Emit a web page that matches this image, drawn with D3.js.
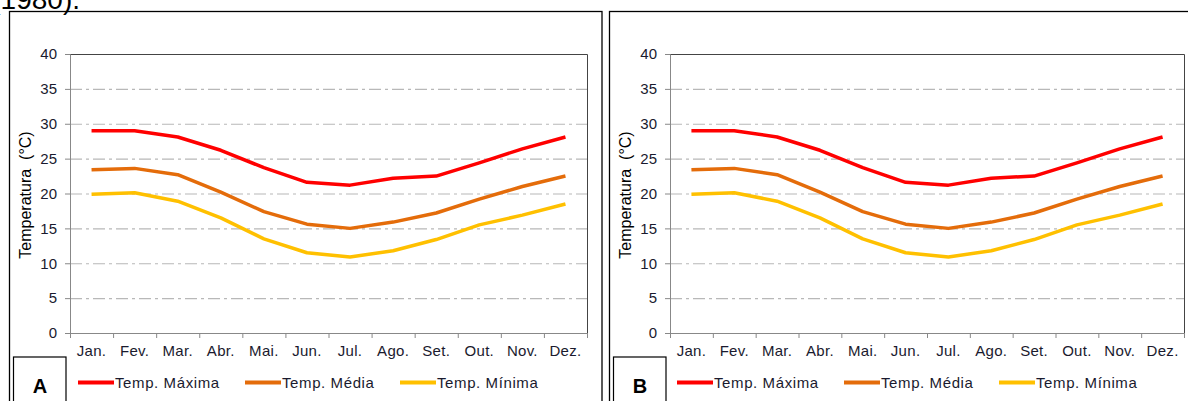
<!DOCTYPE html>
<html>
<head>
<meta charset="utf-8">
<script src="https://cdn.jsdelivr.net/npm/d3@7"></script>
<style>
  body { margin: 0; background: #fff; }
  svg { display: block; font-family: "Liberation Sans", Arial, sans-serif; }
  .tick text { fill: #1a1a2e; }
</style>
</head>
<body>
<div id="chart-container"></div>
<script>
// monthly temperatures (°C)
const months = ["Jan.", "Fev.", "Mar.", "Abr.", "Mai.", "Jun.", "Jul.", "Ago.", "Set.", "Out.", "Nov.", "Dez."];
const tempMax = [29.0, 29.0, 28.1, 26.2, 23.7, 21.6, 21.2, 22.2, 22.5, 24.4, 26.4, 28.1];
const tempMed = [23.4, 23.6, 22.7, 20.2, 17.4, 15.6, 15.0, 15.9, 17.2, 19.2, 21.0, 22.5];
const tempMin = [19.9, 20.1, 18.9, 16.5, 13.5, 11.5, 10.9, 11.8, 13.4, 15.5, 16.9, 18.5];
const yTicks = [0, 5, 10, 15, 20, 25, 30, 35, 40];
const seriesNames = ["Temp. Máxima", "Temp. Média", "Temp. Mínima"];
const seriesColors = ["#ff0000", "#e46c0a", "#ffc000"];

const svg = d3.select("#chart-container")
  .append("svg")
  .attr("width", 1188)
  .attr("height", 401);

// cut-off caption from the page above
svg.append("text")
  .attr("x", 80).attr("y", 9)
  .attr("text-anchor", "end")
  .style("font-size", "28px")
  .attr("fill", "#000")
  .text("(1980).");

const panels = [
  {label: "A", box: [9.5, 602], left: 70, right: 587, dx: 0},
  {label: "B", box: [609.5, 1200], left: 670, right: 1184, dx: 599}
];

const plotTop = 54, plotBottom = 333;

panels.forEach(p => drawPanel(p));

function drawPanel(p) {
  const g = svg.append("g");

  // outer frame
  g.append("rect")
    .attr("x", p.box[0]).attr("y", 11.5)
    .attr("width", p.box[1] - p.box[0]).attr("height", 420)
    .attr("fill", "none").attr("stroke", "#000").attr("stroke-width", 1.3);

  const x = d3.scaleBand().domain(months).range([p.left, p.right]);
  const xEdge = d3.scaleLinear().domain([0, 12]).range([p.left, p.right]);
  const y = d3.scaleLinear().domain([0, 40]).range([plotBottom, plotTop]);

  // grid (dash-dot)
  g.append("g").selectAll("line")
    .data(yTicks.filter(d => d > 0 && d < 40))
    .join("line")
    .attr("x1", p.left).attr("x2", p.right)
    .attr("y1", d => y(d) + 0.5).attr("y2", d => y(d) + 0.5)
    .attr("stroke", "#b8b8b8").attr("stroke-width", 1.2)
    .attr("stroke-dasharray", "12,4,3,4");

  // plot area top and right border
  g.append("path")
    .attr("d", `M${p.left},${y(40) + 0.5}H${p.right + 0.5}V${plotBottom}`)
    .attr("fill", "none").attr("stroke", "#444").attr("stroke-width", 1);

  // Y axis
  const yAxis = g.append("g")
    .attr("transform", `translate(${p.left},0)`)
    .call(d3.axisLeft(y).tickValues(yTicks).tickSize(5).tickPadding(8));
  yAxis.select(".domain").attr("stroke", "#888");
  yAxis.selectAll(".tick line").attr("stroke", "#888");
  yAxis.selectAll("text").style("font-size", "15px");

  // X axis: tick marks at band edges
  const xTicks = g.append("g")
    .attr("transform", `translate(0,${plotBottom})`)
    .call(d3.axisBottom(xEdge).ticks(12).tickSize(5).tickFormat(""));
  xTicks.select(".domain").attr("stroke", "#888");
  xTicks.selectAll(".tick line").attr("stroke", "#888");

  // X labels centred in bands
  const xLab = g.append("g")
    .attr("transform", `translate(0,${plotBottom})`)
    .call(d3.axisBottom(x).tickSize(0).tickPadding(12));
  xLab.select(".domain").remove();
  xLab.selectAll("text").style("font-size", "15px").style("letter-spacing", "0.3px");

  // Y title
  g.append("text")
    .attr("transform", `translate(${p.left - 39},195) rotate(-90)`)
    .attr("text-anchor", "middle")
    .style("font-size", "16px")
    .attr("fill", "#000")
    .attr("xml:space", "preserve")
    .text("Temperatura  (°C)");

  // lines
  const line = d3.line()
    .x((d, i) => x(months[i]) + x.bandwidth() / 2)
    .y(d => y(d));
  [tempMax, tempMed, tempMin].forEach((s, k) => {
    g.append("path")
      .datum(s)
      .attr("d", line)
      .attr("fill", "none")
      .attr("stroke", seriesColors[k])
      .attr("stroke-width", 3.5)
      .attr("stroke-linejoin", "round");
  });

  // legend
  const legX = [78, 245, 400];
  seriesNames.forEach((name, k) => {
    const lx = legX[k] + p.dx;
    g.append("line")
      .attr("x1", lx).attr("x2", lx + 36)
      .attr("y1", 382.5).attr("y2", 382.5)
      .attr("stroke", seriesColors[k]).attr("stroke-width", 4);
    g.append("text")
      .attr("x", lx + 37).attr("y", 388)
      .style("font-size", "15px")
      .style("letter-spacing", "0.6px")
      .attr("fill", "#1a1a2e")
      .text(name);
  });

  // panel label box
  g.append("rect")
    .attr("x", p.left - 56.5).attr("y", 357)
    .attr("width", 52.5).attr("height", 60)
    .attr("fill", "#fff").attr("stroke", "#000").attr("stroke-width", 1.2);
  g.append("text")
    .attr("x", p.left - 30).attr("y", 393)
    .attr("text-anchor", "middle")
    .style("font-size", "20px").style("font-weight", "bold")
    .attr("fill", "#000")
    .text(p.label);
}
</script>
</body>
</html>
